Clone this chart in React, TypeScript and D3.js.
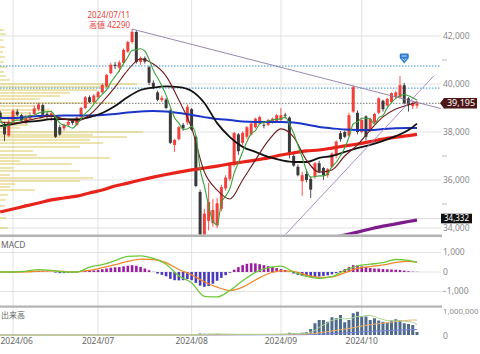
import * as d3 from "d3";

const dates = [
  "2024-05-29","2024-05-30","2024-05-31",
  "2024-06-03","2024-06-04","2024-06-05","2024-06-06","2024-06-07",
  "2024-06-10","2024-06-11","2024-06-12","2024-06-13","2024-06-14",
  "2024-06-17","2024-06-18","2024-06-19","2024-06-20","2024-06-21",
  "2024-06-24","2024-06-25","2024-06-26","2024-06-27","2024-06-28",
  "2024-07-01","2024-07-02","2024-07-03","2024-07-04","2024-07-05",
  "2024-07-08","2024-07-09","2024-07-10","2024-07-11","2024-07-12",
  "2024-07-16","2024-07-17","2024-07-18","2024-07-19",
  "2024-07-22","2024-07-23","2024-07-24","2024-07-25","2024-07-26",
  "2024-07-29","2024-07-30","2024-07-31","2024-08-01","2024-08-02",
  "2024-08-05","2024-08-06","2024-08-07","2024-08-08","2024-08-09",
  "2024-08-13","2024-08-14","2024-08-15","2024-08-16",
  "2024-08-19","2024-08-20","2024-08-21","2024-08-22","2024-08-23",
  "2024-08-26","2024-08-27","2024-08-28","2024-08-29","2024-08-30",
  "2024-09-02","2024-09-03","2024-09-04","2024-09-05","2024-09-06",
  "2024-09-09","2024-09-10","2024-09-11","2024-09-12","2024-09-13",
  "2024-09-17","2024-09-18","2024-09-19","2024-09-20",
  "2024-09-24","2024-09-25","2024-09-26","2024-09-27","2024-09-30",
  "2024-10-01","2024-10-02","2024-10-03","2024-10-04",
  "2024-10-07","2024-10-08","2024-10-09","2024-10-10","2024-10-11",
  "2024-10-15","2024-10-16","2024-10-17","2024-10-18","2024-10-21",
];

const opens = [
  38800,38330,37850,
  38450,38850,38700,38380,38560,
  38750,38950,39120,38760,38620,
  38620,38200,38150,38300,38460,
  38300,38620,39000,39450,39250,
  39450,39650,39900,40450,40800,
  40680,40880,41350,41750,42170,
  40920,41080,40700,40050,
  39650,39330,39350,38900,37460,
  37700,38300,38400,38950,37800,
  35500,32500,34300,34200,34100,
  34800,35650,36050,36620,
  37900,37550,37800,37900,38200,
  38350,38300,38300,38400,38450,
  38500,38720,38600,37000,36550,
  35950,36250,36050,36150,36700,
  36500,36200,36550,37000,
  37950,38000,37850,38850,38800,
  38000,38650,38100,38400,
  38800,39300,39100,39250,39450,
  39450,39950,39400,39080,39100,
];
const highs = [
  38880,38420,38520,
  38950,38950,38760,38720,38820,
  39100,39220,39180,38860,38900,
  38680,38300,38350,38480,38520,
  38650,39050,39500,39520,39580,
  39720,40020,40420,40880,40920,
  40980,41480,41800,42290,42220,
  41150,41150,40760,40150,
  39720,39520,39420,38950,37720,
  38250,38380,39150,39000,37850,
  35600,34800,35880,35200,35250,
  35800,36200,36700,38000,
  37950,38020,38250,38400,38600,
  38680,38420,38550,38600,38750,
  39000,38800,38650,37100,36650,
  36350,36400,36150,36750,36800,
  36550,36500,37150,37650,
  38050,38050,38800,39950,38900,
  38600,38700,38600,38800,
  39450,39350,39420,39650,39700,
  40330,40050,39450,39300,39300,
];
const lows = [
  38500,37620,37800,
  38420,38650,38420,38330,38500,
  38700,38880,38650,38550,38450,
  37750,37850,38050,38250,38300,
  38250,38580,38950,39200,39200,
  39380,39600,39850,40400,40620,
  40500,40850,41300,41680,40850,
  40800,40850,39950,39780,
  39280,39250,38950,37500,37170,
  37650,38050,38300,38050,35700,
  31100,32000,33900,34050,34000,
  34700,35550,35950,36550,
  37050,37450,37700,37850,38150,
  38300,38150,38250,38350,38400,
  38400,38550,36900,36550,36150,
  35350,35900,35250,36050,36300,
  36000,36100,36500,36900,
  37600,37750,37800,38800,37900,
  37950,37650,38000,38350,
  38750,38850,39050,39200,39400,
  39400,39150,38850,38950,38980,
];
const closes = [
  38560,37900,38420,
  38880,38720,38480,38620,38700,
  38980,39150,38720,38650,38780,
  37800,37900,38300,38420,38380,
  38600,39000,39450,39250,39520,
  39660,39960,40380,40800,40750,
  40900,41420,41750,42170,40920,
  41080,40930,40050,39880,
  39340,39420,39000,37550,37670,
  38200,38150,39050,38100,35750,
  31200,34600,35090,34750,35030,
  35700,36100,36650,37960,
  37200,37960,38200,38350,38550,
  38620,38280,38500,38550,38700,
  38700,38680,37050,36600,36200,
  36200,36000,35600,36700,36350,
  36200,36450,37100,37600,
  37700,37800,38700,39870,38000,
  38500,37800,38550,38750,
  39400,38950,39380,39620,39650,
  39950,39200,39130,39200,39195,
];

// 出来高
const volumes = [
  0,0,0, 0,0,0,0,0, 0,0,0,0,0, 0,0,0,0,0, 0,0,0,0,0,
  0,0,0,0,0, 0,0,0,0,0, 0,0,0,0, 0,0,0,0,0, 0,0,0,0,0,
  60000,50000,45000,40000,35000,
  30000,30000,35000,30000,
  25000,30000,30000,25000,30000,
  25000,30000,25000,30000,35000,
  40000,40000,90000,70000,30000,
  90000,120000,240000,470000,600000,
  600000,530000,710000,670000,
  800000,510000,600000,870000,930000,
  760000,740000,600000,670000,
  580000,530000,490000,580000,630000,
  600000,470000,440000,400000,120000,
];

// MACD histogram per day
const macdHist = [
  20,10,-10, 10,30,20,10,20, 40,50,30,20,10,
  -30,-60,-60,-50,-40,-20, 20,60,70,80,
  100,140,180,220,240,250,290,320,350,
  320,260,180,90,10,
  -80,-150,-220,-350,-420,-430,-420,-360,
  -420,-560,-700,-760,-720,-600,-450,
  -300,-160,-40,120,
  250,350,420,450,440,400,350,300,260,200,
  150,100,20,
  -80,-150,-200,-230,-250,-250,-230,-200,-170,-120,-60,
  50,150,250,350,330,
  290,250,200,180,170,150,
  140,130,120,100,70,40,20,10,
];

// moving averages / MACD lines read at these days
const maDates = [
  "2024-05-29","2024-06-03","2024-06-06","2024-06-11","2024-06-14","2024-06-19",
  "2024-06-24","2024-06-27","2024-07-02","2024-07-05","2024-07-10","2024-07-16",
  "2024-07-19","2024-07-24","2024-07-29","2024-08-01","2024-08-06","2024-08-09",
  "2024-08-15","2024-08-20","2024-08-23","2024-08-28","2024-09-02","2024-09-05",
  "2024-09-10","2024-09-13","2024-09-19","2024-09-25","2024-09-30","2024-10-03",
  "2024-10-08","2024-10-11","2024-10-17","2024-10-21",
];
const maMaroon = [38420,38370,38460,38580,38670,38540,38460,38710,39250,39870,40580,41040,40830,40330,39330,38170,36330,35580,35210,36000,36830,37630,38130,37790,36830,36330,36420,37000,37460,38080,38630,38960,39130,39250];
const maBlack = [38250,38330,38420,38460,38540,38540,38520,38620,38790,39080,39460,39750,39850,39900,39870,39710,39210,38370,37790,37380,37170,36960,36830,36750,36750,36920,37000,37170,37330,37460,37630,37830,38080,38350];
const maBlue = [38580,38580,38620,38670,38670,38690,38690,38690,38710,38750,38810,38850,38870,38850,38790,38710,38620,38540,38500,38440,38420,38420,38420,38400,38310,38210,38150,38100,38080,38080,38120,38160,38170,38170];
const maRed = [34670,34790,34920,35040,35170,35250,35330,35460,35580,35750,35870,36000,36120,36230,36330,36420,36500,36580,36670,36750,36830,36920,37040,37130,37210,37250,37330,37420,37500,37600,37710,37790,37850,37900];
const macdLine = [0,0,50,120,80,0,0,250,380,580,800,830,700,400,-200,-550,-1250,-1280,-950,-450,-20,220,300,0,-230,-330,-240,80,320,400,480,640,600,500];
const macdSignal = [0,0,10,40,60,30,10,80,220,380,540,660,640,480,130,-150,-500,-780,-950,-780,-410,-90,60,30,-160,-280,-250,-40,180,280,360,490,550,500];

const longMaDates = ["2024-09-13","2024-09-19","2024-09-25","2024-09-30","2024-10-03","2024-10-08","2024-10-11","2024-10-17","2024-10-21"];
const maPurple = [33500,33600,33710,33830,33960,34080,34170,34270,34332];

// price-by-volume (left)
const pbvPrices = [42250,42080,41830,41540,41330,41130,40920,40710,40500,40330,40170,40000,39880,39750,39630,39500,39380,39210,39080,38920,38790,38670,38540,38420,38290,38170,38000,37880,37790,37670,37540,37380,37210,37040,36920,36790,36670,36500,36380,36210,36080,35960,35830,35710,35580,35380,35170,34920,34670,34420,34000];
const pbvVolumes = [4,6,3,5,3,5,4,7,4,6,10,137,110,97,70,60,40,115,35,50,30,25,83,15,28,20,143,93,127,90,103,80,33,37,110,20,72,13,80,10,93,80,15,10,35,8,6,5,4,6,8];

// trend lines: [day index, price]
const trendDownIdx = [31, 104];
const trendDownVal = [42290, 38960];
const trendUpIdx = [67, 102];
const trendUpVal = [33715, 40345];

const priceTicks = [34000, 36000, 38000, 40000, 42000];
const priceMinor = [35000, 37000, 39000, 41000];
const macdTicks = [-1000, 0, 1000];
const volTicks = [0, 1000000];
const monthDates = ["2024-06-03", "2024-07-01", "2024-08-01", "2024-09-02", "2024-10-01"];
const monthLabels = ["2024/06", "2024/07", "2024/08", "2024/09", "2024/10"];
const blueLevels = [40750, 39830];
const lastPrice = 39195;
const purpleLast = 34332;
const peakDate = "2024-07-11";
const peakValue = 42290;
const signalDate = "2024-10-16";

const FONT = "'Noto Sans', 'Noto Sans CJK JP', sans-serif";

export default function App() {
  const R = 441;
  const n = dates.length;
  const di = new Map(dates.map((d, i) => [d, i] as [string, number]));
  const x = d3.scaleLinear().domain([0, n - 1]).range([0.25, 417]);
  const y = d3.scaleLinear().domain([34000, 42000]).range([228, 36]);
  const yM = d3.scaleLinear().domain([-1000, 1000]).range([291.5, 252.5]);
  const yV = d3.scaleLinear().domain([0, 1000000]).range([335, 310]);
  const xP = d3.scaleLinear().domain([0, 150]).range([0, 150]);
  const fmt = d3.format(",");

  const ma5 = closes.map((_, i) => d3.mean(closes.slice(Math.max(0, i - 4), i + 1)) as number);
  const sma = (arr: number[], k: number) =>
    arr.map((_, i) => d3.sum(arr.slice(Math.max(0, i - k + 1), i + 1)) / k);
  const vol5 = sma(volumes, 5);
  const vol25 = sma(volumes, 25);
  const vol75 = sma(volumes, 75);

  const maIdx = maDates.map((d) => di.get(d) as number);
  const longIdx = longMaDates.map((d) => di.get(d) as number);
  const allIdx = dates.map((_, i) => i);

  const path = (idx: number[], vals: number[], sy: (v: number) => number, curve = d3.curveMonotoneX) =>
    d3.line<number>().x((_, i) => x(idx[i])).y((v) => sy(v)).curve(curve)(vals) || "";

  const peakX = x(di.get(peakDate) as number);
  const sigX = x(di.get(signalDate) as number);
  const pY = y(purpleLast) - 1.5;

  return (
    <svg width={480} height={354} style={{ position: "absolute", left: 0, top: 0, background: "#fff" }} fontFamily={FONT}>
      <defs>
        <clipPath id="cMain"><rect x={0} y={0} width={R} height={234.5} /></clipPath>
        <clipPath id="cMacd"><rect x={0} y={237} width={R} height={69} /></clipPath>
        <clipPath id="cVol"><rect x={0} y={308} width={R} height={28} /></clipPath>
      </defs>

      {/* vertical month grid */}
      {monthDates.map((d) => (
        <line key={d} x1={x(di.get(d) as number)} x2={x(di.get(d) as number)} y1={0} y2={336} stroke="#e2e2e2" strokeWidth={1} />
      ))}

      {/* ---------- main panel ---------- */}
      <g clipPath="url(#cMain)">
        {priceTicks.map((t) => (
          <line key={t} x1={0} x2={R} y1={y(t)} y2={y(t)} stroke="#e2e2e2" strokeWidth={1} />
        ))}
        <line x1={0} x2={R} y1={pY} y2={pY} stroke="#dcdcdc" strokeWidth={1} />

        {pbvPrices.map((p, i) => (
          <rect key={p} x={0} y={y(p) - 1} width={xP(pbvVolumes[i])} height={2} fill="#dcc75a" opacity={0.5} />
        ))}

        {blueLevels.map((v) => (
          <line key={v} x1={0} x2={R} y1={y(v)} y2={y(v)} stroke="#3b8fd9" strokeWidth={1} strokeDasharray="1.5,1.5" />
        ))}
        <line x1={0} x2={R} y1={y(lastPrice)} y2={y(lastPrice)} stroke="#777" strokeWidth={1} strokeDasharray="1.5,1.5" />

        {dates.map((d, i) => {
          const up = closes[i] >= opens[i];
          const c = up ? "#f0413a" : "#3a3a3a";
          const top = y(Math.max(opens[i], closes[i]));
          const bot = y(Math.min(opens[i], closes[i]));
          return (
            <g key={d}>
              <line x1={x(i)} x2={x(i)} y1={y(highs[i])} y2={y(lows[i])} stroke={c} strokeWidth={0.9} />
              <rect x={x(i) - 1.5} y={top} width={3} height={Math.max(0.9, bot - top)} fill={c} />
            </g>
          );
        })}

        <path d={path(maIdx, maRed, y)} fill="none" stroke="#e8231b" strokeWidth={3.2} />
        <path d={path(maIdx, maBlue, y)} fill="none" stroke="#1a35c8" strokeWidth={2} />
        <path d={path(longIdx, maPurple, y)} fill="none" stroke="#7d1d8c" strokeWidth={3.2} />
        <path d={path(maIdx, maBlack, y)} fill="none" stroke="#111" strokeWidth={1.8} />
        <path d={path(maIdx, maMaroon, y)} fill="none" stroke="#6e1c1c" strokeWidth={1.1} />
        <path d={path(allIdx, ma5, y)} fill="none" stroke="#3aa23a" strokeWidth={1.1} />

        <path d={path(trendDownIdx, trendDownVal, y, d3.curveLinear)} fill="none" stroke="#8c7ba8" strokeWidth={0.9} />
        <path d={path(trendUpIdx, trendUpVal, y, d3.curveLinear)} fill="none" stroke="#a081c4" strokeWidth={0.9} />

        <text x={peakX - 2} y={17.5} textAnchor="end" fontSize={8} fill="#e8453c">2024/07/11</text>
        <text x={peakX - 2} y={27.5} textAnchor="end" fontSize={8} fill="#e8453c">{`高値 ${peakValue}`}</text>

        <g transform={`translate(${sigX},0)`}>
          <rect x={-4.5} y={53.5} width={9} height={5} rx={1.2} fill="#2c7bd6" />
          <path d="M-4.5,58 L4.5,58 L0,63.5 Z" fill="#2c7bd6" />
          <line x1={-2.5} x2={2.5} y1={56} y2={56} stroke="#fff" strokeWidth={0.8} />
          <path d="M-2,58.3 L0,60.6 L2,58.3" stroke="#fff" fill="none" strokeWidth={0.8} />
        </g>
      </g>

      {/* main right axis */}
      {priceTicks.map((t) => (
        <text key={t} x={443} y={y(t)} dy="0.35em" fontSize={8.5} fill="#8a8a8a">{fmt(t)}</text>
      ))}
      {priceMinor.map((t) => (
        <line key={t} x1={442} x2={447} y1={y(t)} y2={y(t)} stroke="#bbb" strokeWidth={1} />
      ))}
      <path d={`M440,${y(lastPrice)} L444,${y(lastPrice) - 5.3} L477,${y(lastPrice) - 5.3} L477,${y(lastPrice) + 5.3} L444,${y(lastPrice) + 5.3} Z`} fill="#4d1616" />
      <text x={461} y={y(lastPrice)} dy="0.35em" textAnchor="middle" fontSize={9} fill="#fff">{fmt(lastPrice)}</text>
      <rect x={441} y={pY - 4.8} width={31} height={9.6} fill="#111" />
      <text x={456.5} y={pY} dy="0.35em" textAnchor="middle" fontSize={8} fill="#fff">{fmt(purpleLast)}</text>

      {/* separators */}
      <rect x={0} y={234.5} width={442} height={2.5} fill="#b3b3b3" />
      <rect x={0} y={305.5} width={442} height={2.2} fill="#b3b3b3" />

      {/* ---------- MACD panel ---------- */}
      {macdTicks.map((t) => (
        <line key={t} x1={0} x2={R} y1={yM(t)} y2={yM(t)} stroke="#e2e2e2" strokeWidth={1} />
      ))}
      <g clipPath="url(#cMacd)">
        {macdHist.map((v, i) => (
          <rect key={i} x={x(i) - 1.3} y={Math.min(yM(v), yM(0))} width={2.6} height={Math.abs(yM(v) - yM(0))} fill={v >= 0 ? "#9b1fa0" : "#4a3bbd"} />
        ))}
        <path d={path(maIdx, macdSignal, yM)} fill="none" stroke="#f0872a" strokeWidth={1.3} />
        <path d={path(maIdx, macdLine, yM)} fill="none" stroke="#6dc93a" strokeWidth={1.3} />
      </g>
      <text x={1} y={248} fontSize={8.5} fill="#666">MACD</text>
      {macdTicks.map((t) => (
        <text key={t} x={t < 0 ? 442 : 443} y={yM(t)} dy="0.35em" fontSize={8.5} fill="#8a8a8a">{fmt(t)}</text>
      ))}

      {/* ---------- volume panel ---------- */}
      <g clipPath="url(#cVol)">
        {volumes.map((v, i) => (
          <rect key={i} x={x(i) - 1.5} y={yV(v)} width={3} height={yV(0) - yV(v)} fill="#4f6b8a" />
        ))}
        <path d={path(allIdx, vol75, yV)} fill="none" stroke="#7b84e0" strokeWidth={1} />
        <path d={path(allIdx, vol25, yV)} fill="none" stroke="#f0b070" strokeWidth={1} />
        <path d={path(allIdx, vol5, yV)} fill="none" stroke="#a8d890" strokeWidth={1} />
      </g>
      <text x={1} y={318} fontSize={8} fill="#666">出来高</text>
      {volTicks.map((t) => (
        <text key={t} x={443} y={yV(t) + 1} dy="0.35em" fontSize={t > 0 ? 7.8 : 8.5} fill="#8a8a8a">{fmt(t)}</text>
      ))}

      {/* x axis labels */}
      {monthDates.map((d, i) => {
        const lx = x(di.get(d) as number);
        const atEdge = lx < 15;
        return (
          <text key={d} x={atEdge ? 0.5 : lx} y={344} textAnchor={atEdge ? "start" : "middle"} fontSize={8.5} fill="#666">{monthLabels[i]}</text>
        );
      })}
    </svg>
  );
}
